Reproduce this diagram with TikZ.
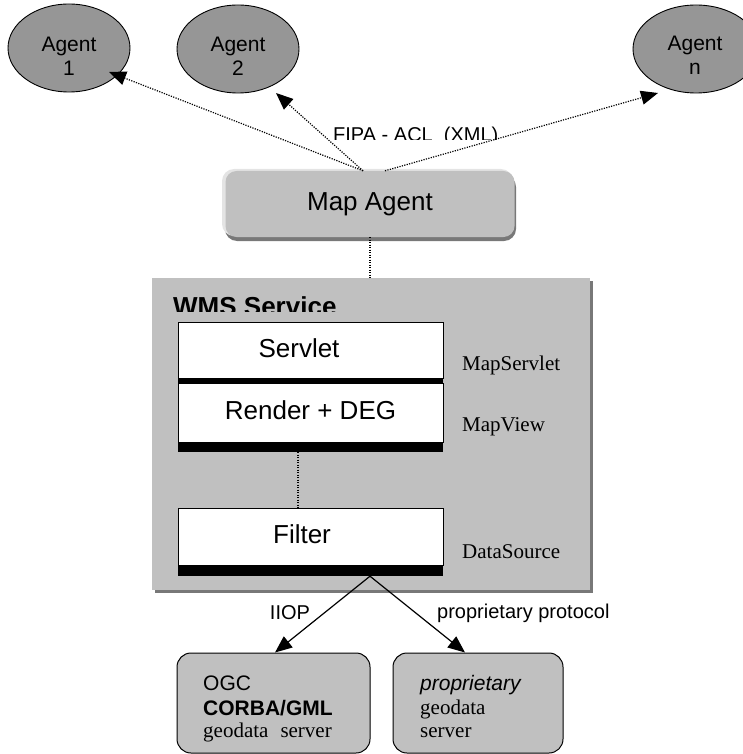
\documentclass[tikz,border=0pt]{standalone}
\usepackage{fontspec}
\setmainfont{Liberation Serif}
\setsansfont{Liberation Sans}
\usetikzlibrary{arrows.meta,shapes.geometric,calc}
\definecolor{agentgray}{RGB}{150,150,150}
\definecolor{boxgray}{RGB}{192,192,192}
\definecolor{shadowgray}{RGB}{120,120,120}
\definecolor{hilite}{RGB}{228,228,228}
\begin{document}
\begin{tikzpicture}[x=1pt,y=-1pt,
  agent/.style={ellipse,draw,fill=agentgray,line width=0.9pt,minimum width=122pt,minimum height=88pt,inner sep=0pt},
  agtext/.style={align=center,inner sep=0pt,font=\sffamily\fontsize{21}{24}\selectfont},
  big/.style={inner sep=0pt,font=\sffamily\fontsize{26}{30}\selectfont},
  layer/.style={draw,fill=white,line width=1pt,minimum width=265pt,inner sep=0pt},
  bar/.style={fill=black,minimum width=265pt,inner sep=0pt},
  serifl/.style={anchor=west,inner sep=0pt,font=\rmfamily\fontsize{21}{24}\selectfont},
  sansl/.style={inner sep=0pt,font=\sffamily\fontsize{20}{24}\selectfont},
  srvbox/.style={draw,fill=boxgray,rounded corners=14pt,line width=1pt,minimum height=100pt,inner sep=0pt},
  srvtext/.style={anchor=base west,inner sep=0pt,font=\sffamily\fontsize{21}{24}\selectfont},
  dotarrow/.style={line width=1.2pt,dash pattern=on 1.2pt off 1.3pt,-{Triangle[length=17pt,width=14pt]}},
  dotline/.style={line width=1.1pt,dash pattern=on 1.2pt off 1.3pt},
  solidarrow/.style={line width=1.2pt,-{Triangle[length=17pt,width=14pt]}}]
\useasboundingbox (0,0) rectangle (743,754);
\clip (0,0) rectangle (743,754);

% agents
\node[agent] (a1) at (69,48) {};
\node[agtext] (a1t) at (69,56) {Agent\\1};
\node[agent] (a2) at (238,49) {};
\node[agtext] (a2t) at (238,56) {Agent\\2};
\node[agent,minimum width=126pt] (an) at (696,49) {};
\node[agtext] (ant) at (695,55) {Agent\\n};

% map agent
\fill[shadowgray,rounded corners=12pt] (225,175) rectangle (516,241);
\fill[hilite,rounded corners=12pt] (222,169) rectangle (513,236);
\node[big,fill=boxgray,rounded corners=11pt,minimum width=289pt,minimum height=66pt] (ma) at (370,204) {Map Agent};

\coordinate (m1) at ($(ma.north)+(-7,0)$);
\coordinate (mn) at ($(ma.north)+(15,0)$);

% FIPA label (clipped at the bottom)
\begin{scope}
\clip (320,110) rectangle (520,139.5);
\node[anchor=base west,inner sep=0pt,font=\sffamily\fontsize{20}{24}\selectfont] (fipa) at (333,141.5) {FIPA - ACL\ \ (XML)};
\end{scope}

\draw[dotarrow] (m1) -- ($(a1.center)+(40,24)$);
\draw[dotarrow] (m1) -- ($(a2.center)+(38,44)$);
\draw[dotarrow] (mn) -- ($(an.center)+(-38,44)$);

% WMS service
\fill[shadowgray] (155,281) rectangle (593,593);
\node[fill=boxgray,minimum width=438pt,minimum height=312pt,inner sep=0pt] (wms) at (371,434) {};
\draw[dotline] (ma.south) -- (ma.south |- wms.north);
\begin{scope}
\clip (160,290) rectangle (420,311.5);
\node[anchor=base west,inner sep=0pt,font=\sffamily\bfseries\fontsize{26}{30}\selectfont] (wmst) at (173,315.5) {WMS Service};
\end{scope}

\node[layer,minimum height=56pt] (sv) at (310.5,350) {};
\node[big] (svt) at (299,348) {Servlet};
\node[bar,minimum height=5pt] (svbar) at (310.5,380.5) {};
\node[layer,minimum height=59pt] (rd) at (310.5,412.5) {};
\node[big] (rdt) at (310.5,410) {Render + DEG};
\node[bar,minimum height=10pt] (rdbar) at (310.5,447) {};
\node[layer,minimum height=57pt] (fl) at (310.5,536.5) {};
\node[big] (flt) at (302,534) {Filter};
\node[bar,minimum height=11pt] (flbar) at (310.5,570.5) {};

\draw[dotline] ($(rdbar.south)+(-12.5,0)$) -- ($(fl.north)+(-12.5,0)$);

\node[serifl] (l1) at (462,365) {MapServlet};
\node[serifl] (l2) at (462,427) {MapView};
\node[serifl] (l3) at (462,552) {DataSource};

% data servers
\node[srvbox,minimum width=193pt] (ob) at (273.5,703) {};
\node[srvbox,minimum width=170pt] (pb) at (478,703) {};

\coordinate (fo) at ($(flbar.south)+(59.5,0)$);
\draw[solidarrow] (fo) -- ($(ob.north)+(1.5,0)$);
\draw[solidarrow] (fo) -- ($(pb.north)+(-13,0)$);

\node[sansl] (iiop) at (290,613) {IIOP};
\node[sansl,anchor=west] (pp) at (437,613) {proprietary protocol};

\node[srvtext] (o1) at (203,690) {OGC};
\node[srvtext,font=\sffamily\bfseries\fontsize{21}{24}\selectfont] (o2) at (203,715) {CORBA/GML};
\node[srvtext,font=\rmfamily\fontsize{21}{24}\selectfont] (o3) at (203,737) {geodata\hspace{12pt}server};

\node[srvtext,font=\sffamily\itshape\fontsize{21}{24}\selectfont] (p1) at (420,690) {proprietary};
\node[srvtext,font=\rmfamily\fontsize{21}{24}\selectfont] (p2) at (420,714) {geodata};
\node[srvtext,font=\rmfamily\fontsize{21}{24}\selectfont] (p3) at (420,737) {server};
\end{tikzpicture}
\end{document}
